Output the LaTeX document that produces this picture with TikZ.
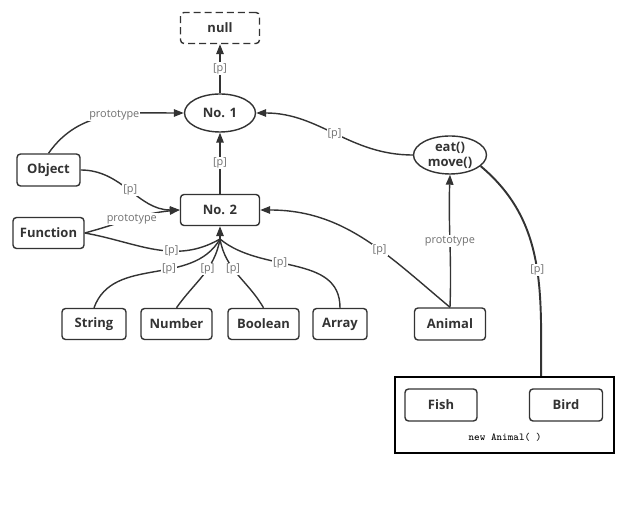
\documentclass[tikz,border=0pt]{standalone}
\usepackage{fontspec}
\setmainfont{Open Sans}
\usetikzlibrary{shapes}
\usetikzlibrary{positioning}
\usetikzlibrary{arrows.meta}
\definecolor{ink}{HTML}{333333}
\definecolor{labgray}{HTML}{707070}
\tikzset{
    objnode/.style = {rectangle, rounded corners=2pt, thick, draw=ink, minimum width=1.42cm, minimum height=0.62cm, inner sep=0pt, text=ink, font=\bfseries\fontsize{7.4}{8}\selectfont},
    protonode/.style = {ellipse, thick, draw=ink, minimum width=1.42cm, minimum height=0.76cm, inner sep=0pt, align=center, text=ink, font=\bfseries\fontsize{7.4}{8.5}\selectfont},
    nullnode/.style = {objnode, dash pattern=on 4pt off 2.3pt, minimum width=1.58cm},
    instbox/.style = {rectangle, draw=black, line width=1.4pt, minimum width=4.38cm, minimum height=1.52cm},
    edgen/.style = {-{Triangle[length=0.2cm,width=0.15cm]}, thick, ink},
    edgep/.style = {thick, ink}, % no tip
    plab/.style = {fill=white, inner sep=0.6pt, text=labgray, font=\fontsize{6.2}{7}\selectfont}
}

\begin{document}
\begin{tikzpicture}
\useasboundingbox (0,0) rectangle (12.64,10.6);
\node[nullnode] at (4.4, 10.04) (null) {null};
\node[protonode] at (4.4, 8.34) (n1) {No. 1};
\node[objnode, minimum width=1.58cm] at (4.4, 6.4) (n2) {No. 2};
\node[objnode, minimum width=1.26cm, minimum height=0.64cm] at (0.97, 7.2) (obj) {Object};
\node[objnode] at (0.97, 5.94) (fun) {Function};
\node[objnode, minimum width=1.28cm] at (1.88, 4.12) (str) {String};
\node[objnode] at (3.53, 4.12) (num) {Number};
\node[objnode] at (5.27, 4.12) (bool) {Boolean};
\node[objnode, minimum width=1.08cm] at (6.8, 4.12) (arr) {Array};
\node[objnode, minimum height=0.64cm] at (9.0, 4.12) (ani) {Animal};
\node[protonode, minimum width=1.46cm] at (9.0, 7.5) (eat) {eat()\\move()};
\node[instbox] at (10.09, 2.3) (inst) {};
\node[objnode, minimum width=1.44cm, minimum height=0.64cm] at (8.82, 2.5) (fish) {Fish};
\node[objnode, minimum width=1.46cm, minimum height=0.64cm] at (11.32, 2.5) (bird) {Bird};
\node[font=\ttfamily\fontsize{6}{7}\selectfont] at (10.1, 1.86) (newtxt) {new Animal( )};
\coordinate (hub) at (4.4, 5.82);

\draw[edgen] (n1) -- node[plab] {[p]} (null);
\draw[edgen] (n2) -- node[plab] {[p]} (n1);
\draw[edgen] (obj.north) to[out=55, in=180] node[plab, pos=0.55] {prototype} (n1.west);
\draw[edgen] (obj.east) to[out=0, in=180] node[plab] {[p]} (n2.west);
\draw[edgen] (fun.east) to[out=15, in=185] node[plab] {prototype} (n2.west);
\draw[edgep] (fun.east) to[out=-10, in=-150] node[plab, pos=0.63] {[p]} (hub);
\draw[edgep] (str.north) to[out=70, in=-120] node[plab, pos=0.6] {[p]} (hub);
\draw[edgep] (num.north) to[out=55, in=-100] node[plab, pos=0.6] {[p]} (hub);
\draw[edgep] (bool.north) to[out=120, in=-80] node[plab, pos=0.6] {[p]} (hub);
\draw[edgep] (arr.north) to[out=90, in=-40] node[plab, pos=0.6] {[p]} (hub);
\draw[edgen] (hub) -- (n2.south);
\draw[edgen] (ani.north) to[out=140, in=0] node[plab, pos=0.4] {[p]} (n2.east);
\draw[edgen] (ani.north) to[out=88, in=-92] node[plab] {prototype} (eat.south);
\draw[edgen] (eat.west) to[out=180, in=0] node[plab] {[p]} (n1.east);
\draw[edgep, line width=1.1pt] (eat.-20) to[out=-40, in=90] node[plab, pos=0.55] {[p]} (inst.47);
\end{tikzpicture}
\end{document}
